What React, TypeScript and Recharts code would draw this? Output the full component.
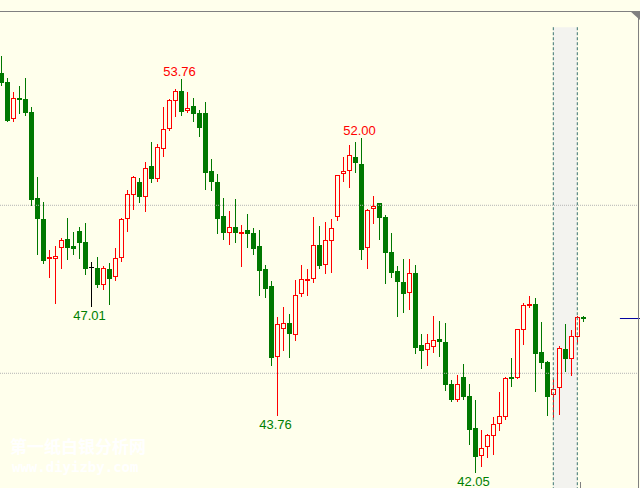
import React from 'react';
import { ComposedChart, Bar, XAxis, YAxis, ReferenceLine, ReferenceArea } from 'recharts';

const opens = [
  53.95, 53.66, 52.56, 53.2, 53.16, 52.78, 50.23, 49.59, 48.42, 48.41,
  48.74, 49.0, 48.79, 49.24, 48.91, 48.15, 48.13, 47.64, 48.1, 47.88,
  48.44, 49.58, 50.3, 50.68, 50.24, 51.16, 50.77, 51.68, 52.28, 53.11,
  53.4, 52.82, 52.96, 52.75, 52.75, 51.02, 50.69, 49.68, 49.18, 49.35,
  49.19, 49.26, 49.18, 48.79, 48.1, 47.6, 45.49, 46.33, 46.5, 46.15,
  47.37, 47.78, 47.82, 48.82, 48.21, 48.93, 49.64, 50.92, 51.01, 51.43,
  51.23, 48.74, 49.9, 50.07, 49.65, 48.61, 48.04, 47.72, 47.38, 47.99,
  45.84, 45.68, 45.77, 46.02, 45.93, 44.68, 44.21, 44.89, 44.32, 43.37,
  42.53, 42.8, 43.14, 43.48, 43.69, 44.89, 44.87, 46.28, 47.02, 47.06,
  45.63, 45.34, 44.35, 44.55, 45.72, 45.42, 46.07, 46.67,
];
const highs = [
  54.44, 53.78, 53.38, 53.55, 53.79, 52.92, 50.84, 50.1, 48.67, 48.79,
  49.04, 49.63, 49.21, 49.35, 49.48, 48.31, 48.46, 48.18, 48.27, 48.74,
  49.63, 50.46, 50.86, 50.81, 51.28, 51.88, 51.82, 52.93, 53.15, 53.45,
  53.76, 53.37, 53.19, 52.84, 53.07, 51.38, 50.92, 50.22, 49.83, 50.19,
  49.4, 49.74, 49.32, 49.26, 48.22, 47.75, 46.68, 46.97, 46.77, 47.78,
  48.22, 48.1, 49.65, 49.38, 49.5, 49.59, 50.9, 51.44, 51.79, 51.88,
  52.0, 49.9, 50.29, 50.08, 49.71, 49.18, 48.19, 48.4, 48.4, 48.22,
  46.17, 46.17, 46.71, 46.56, 46.5, 44.8, 44.95, 45.29, 44.68, 44.21,
  43.31, 43.19, 43.69, 44.43, 44.88, 45.46, 46.33, 47.09, 47.31, 47.24,
  46.53, 45.36, 44.83, 45.81, 46.48, 46.29, 46.7, 46.71,
];
const lows = [
  53.58, 52.5, 52.52, 52.74, 52.69, 50.01, 48.55, 48.27, 47.88, 47.08,
  48.14, 48.4, 48.55, 48.44, 47.96, 47.01, 47.56, 47.51, 47.05, 47.78,
  48.35, 49.24, 49.88, 50.11, 49.84, 50.69, 50.72, 51.48, 52.24, 52.67,
  52.7, 52.77, 52.51, 52.06, 50.48, 50.46, 49.18, 49.01, 48.86, 48.92,
  48.18, 48.76, 48.55, 47.34, 47.28, 45.25, 43.76, 45.69, 45.49, 46.0,
  47.31, 47.33, 47.72, 48.14, 47.99, 48.01, 49.57, 50.73, 50.55, 51.0,
  48.4, 48.14, 49.48, 49.0, 47.7, 47.88, 46.71, 46.83, 46.92, 45.61,
  45.17, 45.26, 45.64, 45.52, 44.51, 44.18, 44.18, 44.24, 42.9, 42.05,
  42.25, 42.52, 42.61, 43.3, 43.65, 44.62, 44.86, 45.87, 46.98, 44.48,
  45.16, 43.77, 43.7, 43.8, 45.08, 44.96, 45.89, 46.57,
];
const closes = [
  53.65, 52.52, 53.18, 53.14, 52.76, 50.16, 49.59, 48.34, 48.45, 48.49,
  48.96, 48.73, 48.71, 48.89, 48.1, 48.15, 47.63, 48.13, 47.82, 48.42,
  49.58, 50.33, 50.83, 50.24, 51.1, 50.79, 51.73, 52.26, 53.13, 53.39,
  52.79, 52.89, 52.73, 52.3, 50.96, 50.69, 49.59, 49.18, 49.35, 49.18,
  49.22, 49.15, 48.71, 48.05, 47.52, 45.46, 46.46, 46.49, 46.18, 47.32,
  47.8, 47.81, 48.81, 48.2, 48.96, 49.32, 50.89, 51.01, 51.49, 51.27,
  48.67, 49.86, 49.98, 49.63, 48.59, 47.99, 47.73, 47.37, 47.99, 45.76,
  45.67, 45.89, 45.98, 45.92, 44.66, 44.21, 44.68, 44.3, 43.32, 42.52,
  42.77, 43.16, 43.48, 43.72, 44.87, 44.84, 46.31, 47.02, 47.06, 45.58,
  45.32, 44.3, 44.53, 45.74, 45.43, 46.1, 46.67, 46.63,
];

const highLabelIdx = [30, 60];
const lowLabelIdx = [15, 46, 79];
const gridLevels = [50, 45];
const sessionStart = 92;
const sessionEnd = 96;
const sessionTop = 55.3;
const yDomain: [number, number] = [41.586, 56.11];
const xDomain: [number, number] = [-0.2167, 106.45];
const lastPriceLineStart = 103.1;

const data = opens.map((o, i) => ({
  i,
  o,
  h: highs[i],
  l: lows[i],
  c: closes[i],
  hiLab: highLabelIdx.includes(i),
  loLab: lowLabelIdx.includes(i),
}));

const BG = '#FFFFEC';
const UP = '#FF0000';
const DOWN = '#007800';

function Candle(props: any) {
  const { x, y, width, height, payload } = props;
  if (!payload || x == null || y == null) return null;
  const { o, h, l, c } = payload;
  const ppu = h - l > 0 ? height / (h - l) : 0;
  const yOf = (p: number) => y + (h - p) * ppu;
  const cx = x + width / 2;
  const px = Math.floor(cx);
  const wx = px + 0.5;
  const yH = Math.round(yOf(h));
  const yL = Math.round(yOf(l));
  const yO = yOf(o);
  const yC = yOf(c);
  let top = Math.round(Math.min(yO, yC));
  let bot = Math.round(Math.max(yO, yC));
  const isUp = c > o;
  const isFlat = c === o;
  const color = isFlat ? '#000000' : isUp ? UP : DOWN;
  const parts: any[] = [];
  parts.push(<line key="w" x1={wx} x2={wx} y1={yH} y2={yL + 1} stroke={color} strokeWidth={1} />);
  if (isFlat) {
    parts.push(<rect key="b" x={px - 2} y={top} width={5} height={1} fill={color} />);
  } else if (bot - top <= 2) {
    if (bot - top < 2) bot = top + 2;
    parts.push(<rect key="b" x={px - 2} y={top} width={5} height={bot - top} fill={color} />);
  } else if (isUp) {
    parts.push(
      <rect key="b" x={px - 2 + 0.5} y={top + 0.5} width={4} height={bot - top - 1} fill={BG} stroke={color} strokeWidth={1} />
    );
  } else {
    parts.push(<rect key="b" x={px - 2} y={top} width={5} height={bot - top} fill={color} />);
  }
  if (payload.hiLab) {
    parts.push(
      <text key="hl" x={cx - 18} y={yH - 3} fill="#FF0000" fontSize={13} fontFamily="Liberation Sans, Arial, sans-serif">
        {h.toFixed(2)}
      </text>
    );
  }
  if (payload.loLab) {
    parts.push(
      <text key="ll" x={cx - 18} y={yL + 14} fill="#008000" fontSize={13} fontFamily="Liberation Sans, Arial, sans-serif">
        {l.toFixed(2)}
      </text>
    );
  }
  return <g>{parts}</g>;
}

export default function App() {
  const last = closes[closes.length - 1];
  return (
    <div style={{ position: 'absolute', left: 0, top: 0, width: 640, height: 488, background: BG, overflow: 'hidden' }}>
      <svg width={640} height={488} style={{ position: 'absolute', left: 0, top: 0 }}>
        <text x={10} y={453} fill="#FFFFFF" fontSize={17} fontWeight="bold" fontFamily="Noto Sans CJK SC, sans-serif">
          第一纸白银分析网
        </text>
        <text x={12} y={472} fill="#FFFFFF" fontSize={14} fontWeight="bold" fontFamily="DejaVu Sans Mono, monospace">
          www.diyizby.com
        </text>
      </svg>
      <div style={{ position: 'absolute', left: 0, top: 0 }}>
        <ComposedChart width={640} height={488} data={data} margin={{ top: 0, right: 0, bottom: 0, left: 0 }}>
          <XAxis dataKey="i" type="number" domain={xDomain} hide allowDataOverflow />
          <YAxis type="number" domain={yDomain} hide allowDataOverflow />
          <ReferenceArea
            x1={sessionStart}
            x2={sessionEnd}
            y1={yDomain[0]}
            y2={sessionTop}
            fill="#F3F3EF"
            fillOpacity={1}
            stroke="none"
            ifOverflow="hidden"
          />
          {gridLevels.map((g) => (
            <ReferenceLine key={g} y={g} stroke="#B4B4B4" strokeDasharray="1 1" />
          ))}
          <ReferenceLine
            segment={[{ x: sessionStart, y: sessionTop }, { x: sessionStart, y: yDomain[0] }]}
            stroke="#3A7370"
            strokeDasharray="3 2"
          />
          <ReferenceLine
            segment={[{ x: sessionEnd, y: sessionTop }, { x: sessionEnd, y: yDomain[0] }]}
            stroke="#3A7370"
            strokeDasharray="3 2"
          />
          <ReferenceLine
            segment={[{ x: lastPriceLineStart, y: last }, { x: xDomain[1], y: last }]}
            stroke="#0000A0"
          />
          <Bar dataKey={(d: any) => [d.l, d.h]} barSize={4} shape={<Candle />} isAnimationActive={false} />
        </ComposedChart>
      </div>
      <svg width={640} height={488} style={{ position: 'absolute', left: 0, top: 0, pointerEvents: 'none' }}>
        <line x1={0} x2={631} y1={11.5} y2={11.5} stroke="#808080" strokeWidth={1} />
        <polygon points="630,11 640,11 640,20" fill="#808080" />
        <line x1={638.5} x2={638.5} y1={11} y2={488} stroke="#808080" strokeWidth={1} />
        <line x1={580.5} x2={580.5} y1={482} y2={488} stroke="#808080" strokeWidth={1} />
      </svg>
    </div>
  );
}
